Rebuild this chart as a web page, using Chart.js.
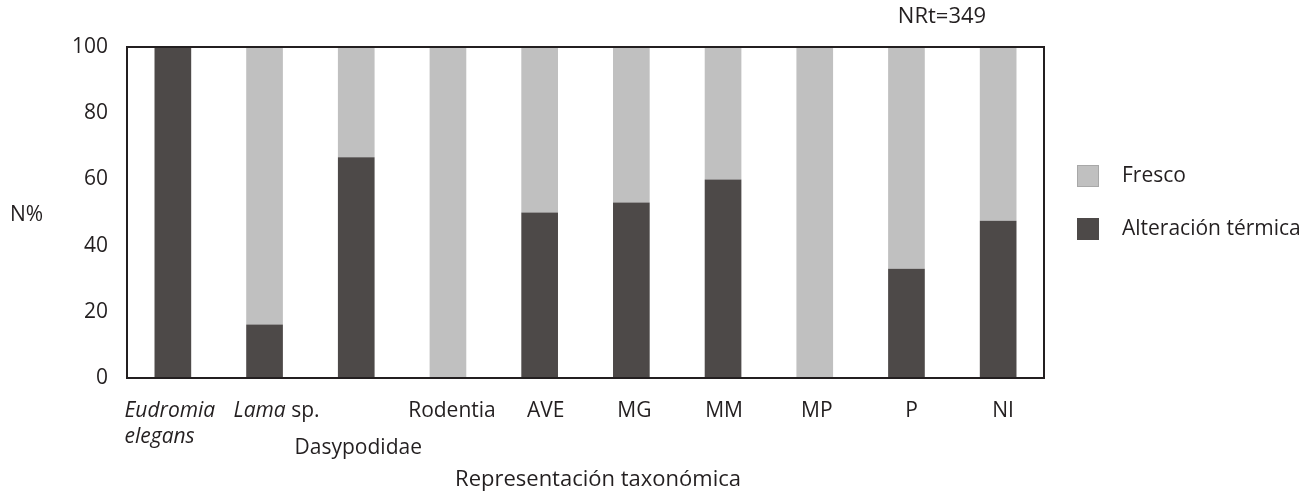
<!DOCTYPE html>
<html><head><meta charset="utf-8">
<script src="https://cdn.jsdelivr.net/npm/chart.js@4.4.0/dist/chart.umd.min.js"></script>
<style>html,body{margin:0;padding:0;background:#fff}canvas{display:block}</style>
</head><body>
<canvas id="c" width="1312" height="495"></canvas>
<script>
// ---- data ----
const categories = ['Eudromia elegans','Lama sp.','Dasypodidae','Rodentia','AVE','MG','MM','MP','P','NI'];
const alteracionTermica = [100, 16.2, 66.7, 0, 50, 53, 60, 0, 33, 47.5];
const fresco = [0, 83.8, 33.3, 100, 50, 47, 40, 100, 67, 52.5];
const yTicks = [0, 20, 40, 60, 80, 100];
const seriesNames = ['Alteración térmica', 'Fresco'];
const yLabel = 'N%';
const xTitle = 'Representación taxonómica';
const note = 'NRt=349';

// ---- style / layout config ----
const FONT = "'Open Sans', sans-serif";
const FS = 21;
const TXT = '#231f20';
const DARK = '#4d4948';
const LIGHT = '#c0c0c0';
const italicWords = ['Eudromia', 'elegans', 'Lama'];
const multiLine = {'Eudromia elegans': ['Eudromia', 'elegans']};
const labelRow = [0,0,1,0,0,0,0,0,0,0];
const labelDx = [-3, 12, 2, 4, 6, 3, 1, 2, 5, 5];

function drawRich(ctx, line, x, y, align){
  const words = line.split(' ');
  const parts = words.map((w, i) => ({t: (i ? ' ' : '') + w, it: italicWords.includes(w)}));
  let total = 0;
  parts.forEach(p => { ctx.font = (p.it ? 'italic ' : '') + FS + 'px ' + FONT; p.w = ctx.measureText(p.t).width; total += p.w; });
  let cx = align === 'left' ? x : x - total / 2;
  parts.forEach(p => { ctx.font = (p.it ? 'italic ' : '') + FS + 'px ' + FONT; ctx.fillText(p.t, cx, y); cx += p.w; });
  return total;
}

const decor = {
  id: 'decor',
  afterDatasetsDraw(chart){
    const {ctx, chartArea: a} = chart;
    ctx.save();
    ctx.strokeStyle = TXT; ctx.lineWidth = 2;
    ctx.strokeRect(a.left, a.top, a.right - a.left, a.bottom - a.top);
    ctx.restore();
  },
  afterDraw(chart){
    const {ctx, scales: {x}} = chart;
    ctx.save();
    ctx.fillStyle = TXT;
    ctx.textBaseline = 'middle';
    ctx.textAlign = 'left';
    categories.forEach((c, i) => {
      const px = x.getPixelForValue(i) + labelDx[i];
      const y0 = labelRow[i] ? 448 : 411;
      if (multiLine[c]) {
        const lines = multiLine[c];
        let maxW = 0;
        lines.forEach(l => { ctx.font = 'italic ' + FS + 'px ' + FONT; maxW = Math.max(maxW, ctx.measureText(l).width); });
        lines.forEach((l, k) => drawRich(ctx, l, px - maxW / 2, y0 + k * 26, 'left'));
      } else {
        drawRich(ctx, c, px, y0, 'center');
      }
    });
    ctx.font = '22px ' + FONT;
    ctx.textAlign = 'center';
    ctx.fillText(xTitle, 598, 480);
    ctx.fillText(note, 942, 17);
    ctx.font = FS + 'px ' + FONT;
    ctx.textAlign = 'left';
    ctx.fillText(yLabel, 10, 215);
    // legend (top: Fresco, bottom: Alteración térmica)
    const items = [
      {name: chart.data.datasets[1].label, fill: LIGHT, stroke: '#a8a8a8', y: 176},
      {name: chart.data.datasets[0].label, fill: DARK, stroke: DARK, y: 229}
    ];
    items.forEach(it => {
      ctx.fillStyle = it.fill;
      ctx.fillRect(1077, it.y - 11, 22, 22);
      ctx.strokeStyle = it.stroke; ctx.lineWidth = 1;
      ctx.strokeRect(1077.5, it.y - 10.5, 21, 21);
      ctx.fillStyle = TXT;
      ctx.fillText(it.name, 1122, it.y);
    });
    ctx.restore();
  }
};

new Chart(document.getElementById('c'), {
  type: 'bar',
  data: {
    labels: categories,
    datasets: [
      {label: seriesNames[0], data: alteracionTermica, backgroundColor: DARK, borderWidth: 0},
      {label: seriesNames[1], data: fresco, backgroundColor: LIGHT, borderWidth: 0}
    ]
  },
  options: {
    responsive: false,
    animation: false,
    devicePixelRatio: 1,
    layout: {padding: {top: 47, right: 268, bottom: 0, left: 0}},
    plugins: {legend: {display: false}, tooltip: {enabled: false}},
    datasets: {bar: {barPercentage: 0.4, categoryPercentage: 1}},
    scales: {
      x: {
        stacked: true,
        grid: {display: false, drawTicks: false},
        border: {display: false},
        ticks: {display: false},
        afterFit(s){ s.height = 495 - 47 - 331; }
      },
      y: {
        stacked: true,
        min: 0, max: 100,
        afterBuildTicks(s){ s.ticks = yTicks.map(v => ({value: v})); },
        grid: {display: false, drawTicks: false},
        border: {display: false},
        ticks: {color: TXT, font: {family: FONT, size: FS}, padding: 19},
        afterFit(s){ s.width = 127; }
      }
    }
  },
  plugins: [decor]
});
</script>
</body></html>
